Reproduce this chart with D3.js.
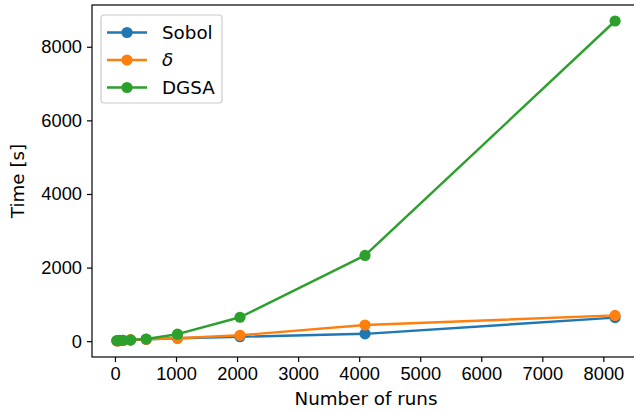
<!DOCTYPE html>
<html>
<head>
<meta charset="utf-8">
<script src="https://cdn.jsdelivr.net/npm/d3@7"></script>
<style>
  body { margin: 0; background: #fff; }
  svg { display: block; font-family: "DejaVu Sans", sans-serif; }
  .tick text { font-size: 18.3px; fill: #000; }
  .tick line { stroke: #000; stroke-width: 1.2; }
</style>
</head>
<body>
<div id="chart"></div>
<script>
// data
var runs = [32, 64, 128, 256, 512, 1024, 2048, 4096, 8192];
var sobolTime = [10, 15, 20, 30, 50, 80, 120, 200, 640];
var deltaTime = [5, 10, 15, 40, 50, 80, 160, 440, 700];
var dgsaTime = [15, 20, 25, 35, 60, 190, 650, 2330, 8700];
var seriesNames = ["Sobol", "δ", "DGSA"];
var seriesColors = ["#1f77b4", "#ff7f0e", "#2ca02c"];
var xTicks = [0, 1000, 2000, 3000, 4000, 5000, 6000, 7000, 8000];
var yTicks = [0, 2000, 4000, 6000, 8000];

var series = [sobolTime, deltaTime, dgsaTime].map(function(vals, i) {
    return {
        name: seriesNames[i],
        color: seriesColors[i],
        values: runs.map(function(r, j) { return {x: r, y: vals[j]}; })
    };
});

// plot box (right edge goes past the window, like the original)
var margin = {top: 5, left: 92},
    width = 548,
    height = 352;

var svg = d3.select("#chart").append("svg")
    .attr("width", 634)
    .attr("height", 413);

var g = svg.append("g")
    .attr("transform", "translate(" + margin.left + "," + margin.top + ")");

// 5% padding like matplotlib
var xmin = d3.min(runs), xmax = d3.max(runs), xpad = (xmax - xmin) * 0.05;
var ymin = d3.min(deltaTime), ymax = d3.max(dgsaTime), ypad = (ymax - ymin) * 0.05;

var x = d3.scaleLinear()
    .domain([xmin - xpad, xmax + xpad])
    .range([0, width]);

var y = d3.scaleLinear()
    .domain([ymin - ypad, ymax + ypad])
    .range([height, 0]);

// axes
g.append("g")
    .attr("transform", "translate(0," + height + ")")
    .call(d3.axisBottom(x).tickValues(xTicks).tickSize(5).tickPadding(5).tickFormat(d3.format("d")))
    .call(function(a) { a.select(".domain").remove(); });

g.append("g")
    .call(d3.axisLeft(y).tickValues(yTicks).tickSize(5).tickPadding(5).tickFormat(d3.format("d")))
    .call(function(a) { a.select(".domain").remove(); });

// lines and markers
var line = d3.line()
    .x(function(d) { return x(d.x); })
    .y(function(d) { return y(d.y); });

series.forEach(function(s) {
    g.append("path")
        .datum(s.values)
        .attr("d", line)
        .attr("fill", "none")
        .attr("stroke", s.color)
        .attr("stroke-width", 2.4)
        .attr("stroke-linejoin", "round");
    g.selectAll(null)
        .data(s.values)
        .enter()
        .append("circle")
        .attr("cx", function(d) { return x(d.x); })
        .attr("cy", function(d) { return y(d.y); })
        .attr("r", 5.6)
        .attr("fill", s.color);
});

// frame
g.append("rect")
    .attr("width", width)
    .attr("height", height)
    .attr("fill", "none")
    .attr("stroke", "#000")
    .attr("stroke-width", 1.2);

// axis labels
svg.append("text")
    .attr("x", margin.left + width / 2)
    .attr("y", 405)
    .attr("text-anchor", "middle")
    .style("font-size", "18.3px")
    .text("Number of runs");

svg.append("text")
    .attr("transform", "translate(24," + (margin.top + height / 2) + ") rotate(-90)")
    .attr("text-anchor", "middle")
    .style("font-size", "18.3px")
    .text("Time [s]");

// legend
var legend = svg.append("g")
    .attr("transform", "translate(101,15)");

legend.append("rect")
    .attr("width", 121)
    .attr("height", 88)
    .attr("rx", 3)
    .attr("fill", "#fff")
    .attr("fill-opacity", 0.8)
    .attr("stroke", "#cccccc")
    .attr("stroke-width", 1.2);

series.forEach(function(s, i) {
    var row = legend.append("g")
        .attr("transform", "translate(0," + (17.5 + i * 27.5) + ")");
    row.append("line")
        .attr("x1", 6).attr("x2", 46)
        .attr("stroke", s.color)
        .attr("stroke-width", 2.4);
    row.append("circle")
        .attr("cx", 26)
        .attr("r", 5.6)
        .attr("fill", s.color);
    row.append("text")
        .attr("x", 61)
        .attr("dy", "0.35em")
        .style("font-size", "18.3px")
        .style("font-style", i == 1 ? "italic" : "normal")
        .text(s.name);
});
</script>
</body>
</html>
